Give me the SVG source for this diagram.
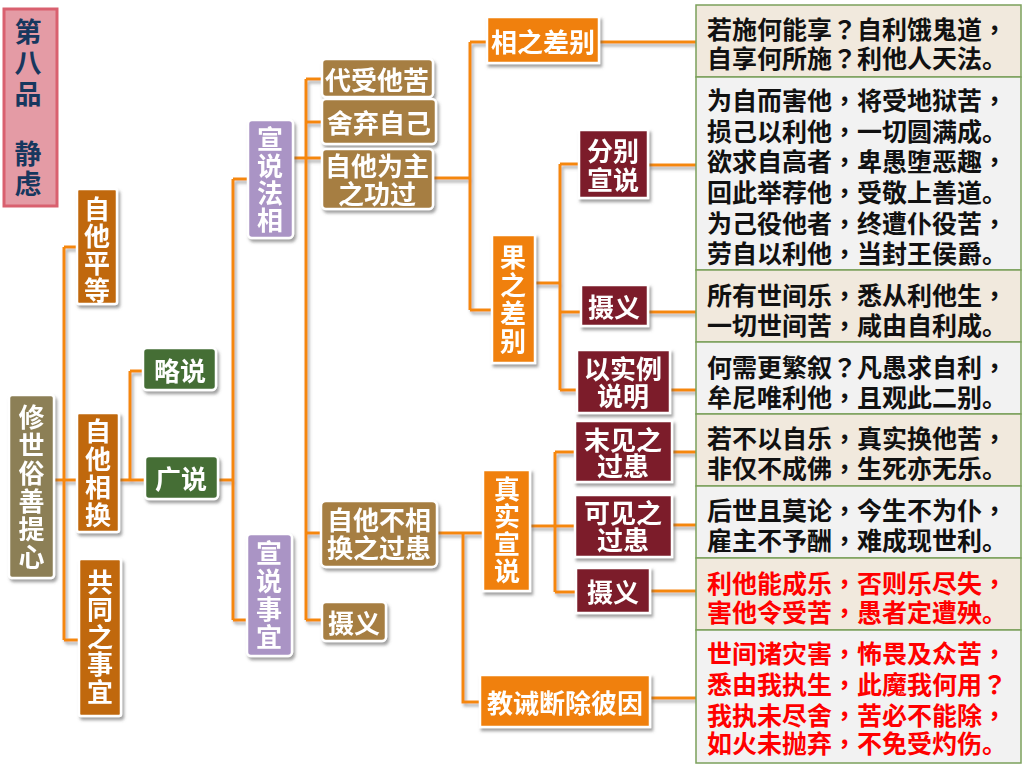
<svg xmlns="http://www.w3.org/2000/svg" width="1023" height="767" viewBox="0 0 1023 767">
<defs>
<filter id="sh" x="-20%" y="-20%" width="150%" height="150%">
<feDropShadow dx="2" dy="3" stdDeviation="1.8" flood-color="#555" flood-opacity="0.55"/>
</filter>
<filter id="lsh" x="-20%" y="-20%" width="150%" height="150%">
<feDropShadow dx="2" dy="3" stdDeviation="1.5" flood-color="#666" flood-opacity="0.5"/>
</filter>
</defs>
<style>
text{font-family:"Noto Sans CJK SC","Noto Sans CJK TC",sans-serif;font-weight:bold;}
.n text{fill:#fff;font-size:26px;text-anchor:middle;dominant-baseline:central;}
.n rect{stroke:#fff;stroke-width:2.5;}
.n{filter:url(#sh);}
.khaki{fill:#8C7F56;}
.ob{fill:#C0680E;}
.gr{fill:#446E36;}
.lav{fill:#AA94C5;}
.br{fill:#A67E42;}
.or{fill:#F0800A;}
.mr{fill:#7B1F2A;}
.conn path{fill:none;stroke:#F5870F;stroke-width:3;}
.tb text{font-size:25px;fill:#111;dominant-baseline:central;}
.tb text.red{fill:#FF0000;}
.tb .p{font-family:"Noto Sans CJK TC","Noto Sans CJK SC",sans-serif;}
.r1{fill:#F1E9DD;stroke:#7BA05B;stroke-width:1.5;}
.r2{fill:#F2F2F2;stroke:#7BA05B;stroke-width:1.5;}
</style>
<rect width="1023" height="767" fill="#fff"/>

<g id="connectors" class="conn" filter="url(#lsh)">
<path d="M54,480 H64 M64,247 V640 M64,247 H77 M64,480 H77 M64,640 H79"/>
<path d="M119,480 H130 M130,371 V480 M130,371 H143 M130,480 H145"/>
<path d="M218,480 H233 M233,179 V620 M233,179 H248 M233,620 H247"/>
<path d="M293,158 H306 M306,79 V620 M306,79 H322 M306,122 H322 M306,158 H322 M306,533 H321 M306,620 H322"/>
<path d="M433,178 H470 M470,42 V310 M470,42 H487 M470,310 H492"/>
<path d="M599,42 H696"/>
<path d="M535,283 H560 M560,164 V390 M560,164 H579 M560,312 H581 M560,390 H577"/>
<path d="M648,165 H696 M648,312 H696 M670,390 H696"/>
<path d="M437,533 H483 M463,533 V702 H480"/>
<path d="M530,526 H555 M555,452 V592 M555,452 H575 M555,526 H575 M555,592 H576"/>
<path d="M672,452 H696 M672,525 H696 M650,591 H696 M650,698 H696"/>
</g>

<g id="title">
<rect x="4" y="9" width="53" height="197" fill="#E49BA5" stroke="#D9606F" stroke-width="3"/>
<g font-size="27" fill="#17375E" text-anchor="middle" dominant-baseline="central">
<text x="28" y="30">第</text>
<text x="28" y="61">八</text>
<text x="28" y="92">品</text>
<text x="28" y="152">静</text>
<text x="28" y="182">虑</text>
</g>
</g>

<g id="root" class="n">
<rect class="khaki" x="9" y="395" width="45" height="183" rx="3"/>
<text x="31.5" y="415">修</text><text x="31.5" y="443">世</text><text x="31.5" y="471">俗</text><text x="31.5" y="499">善</text><text x="31.5" y="527">提</text><text x="31.5" y="555">心</text>
</g>

<g id="zitapingdeng" class="n">
<rect class="ob" x="77" y="189" width="40" height="115" rx="2"/>
<text x="97" y="207">自</text><text x="97" y="234">他</text><text x="97" y="261">平</text><text x="97" y="288">等</text>
</g>

<g id="zitaxianghuan" class="n">
<rect class="ob" x="77" y="413" width="42" height="119" rx="2"/>
<text x="98" y="429">自</text><text x="98" y="457">他</text><text x="98" y="485">相</text><text x="98" y="513">换</text>
</g>

<g id="gongtong" class="n">
<rect class="ob" x="79" y="559" width="42" height="157" rx="2"/>
<text x="100" y="580">共</text><text x="100" y="607.5">同</text><text x="100" y="635">之</text><text x="100" y="662.5">事</text><text x="100" y="690">宜</text>
</g>

<g id="lueshuo" class="n">
<rect class="gr" x="143" y="348" width="73" height="42" rx="4"/>
<text x="180" y="369">略说</text>
</g>

<g id="guangshuo" class="n">
<rect class="gr" x="145" y="456" width="73" height="43" rx="4"/>
<text x="181" y="477">广说</text>
</g>

<g id="xuanshuofaxiang" class="n">
<rect class="lav" x="248" y="120" width="45" height="118" rx="4"/>
<text x="270" y="137">宣</text><text x="270" y="164">说</text><text x="270" y="191">法</text><text x="270" y="218">相</text>
</g>

<g id="xuanshuoshiyi" class="n">
<rect class="lav" x="247" y="534" width="45" height="122" rx="4"/>
<text x="269" y="551">宣</text><text x="269" y="579">说</text><text x="269" y="607">事</text><text x="269" y="635">宜</text>
</g>

<g id="daishou" class="n">
<rect class="br" x="322" y="59" width="111" height="38" rx="4"/>
<text x="377" y="78">代受他苦</text>
</g>

<g id="shegi" class="n">
<rect class="br" x="322" y="99" width="114" height="45" rx="4"/>
<text x="379" y="121">舍弃自己</text>
</g>

<g id="zitaweizhu" class="n">
<rect class="br" x="322" y="149" width="111" height="60" rx="4"/>
<text x="377" y="164">自他为主</text>
<text x="377" y="192">之功过</text>
</g>

<g id="zitabuxianghuan" class="n">
<rect class="br" x="321" y="501" width="116" height="66" rx="5"/>
<text x="379" y="518">自他不相</text>
<text x="379" y="546">换之过患</text>
</g>

<g id="sheyi1" class="n">
<rect class="br" x="322" y="602" width="64" height="39" rx="4"/>
<text x="354" y="621">摄义</text>
</g>

<g id="xiangzhichabie" class="n">
<rect class="or" x="487" y="17" width="112" height="46"/>
<text x="543" y="40">相之差别</text>
</g>

<g id="guozhichabie" class="n">
<rect class="or" x="492" y="235" width="43" height="128"/>
<text x="513" y="255">果</text><text x="513" y="283">之</text><text x="513" y="311">差</text><text x="513" y="339">别</text>
</g>

<g id="fenbie" class="n">
<rect class="mr" x="579" y="130" width="69" height="68"/>
<text x="613" y="149">分别</text>
<text x="613" y="178">宣说</text>
</g>

<g id="sheyi2" class="n">
<rect class="mr" x="581" y="285" width="67" height="41"/>
<text x="614" y="305">摄义</text>
</g>

<g id="yishili" class="n">
<rect class="mr" x="577" y="350" width="93" height="63"/>
<text x="623" y="367">以实例</text>
<text x="623" y="394">说明</text>
</g>

<g id="zhenshi" class="n">
<rect class="or" x="483" y="470" width="47" height="121"/>
<text x="507" y="487">真</text><text x="507" y="514.5">实</text><text x="507" y="542">宣</text><text x="507" y="569.5">说</text>
</g>

<g id="weijian" class="n">
<rect class="mr" x="575" y="421" width="97" height="61"/>
<text x="623" y="438">末见之</text>
<text x="623" y="464">过患</text>
</g>

<g id="kejian" class="n">
<rect class="mr" x="575" y="495" width="97" height="62"/>
<text x="623" y="511">可见之</text>
<text x="623" y="538">过患</text>
</g>

<g id="sheyi3" class="n">
<rect class="mr" x="576" y="568" width="74" height="45"/>
<text x="613" y="590">摄义</text>
</g>

<g id="jiaojie" class="n">
<rect class="or" x="480" y="675" width="170" height="52"/>
<text x="565" y="701">教诫断除彼因</text>
</g>

<g id="table" class="tb">
<rect class="r1" x="696" y="5" width="325" height="72"/>
<rect class="r2" x="696" y="77" width="325" height="193"/>
<rect class="r1" x="696" y="270" width="325" height="72"/>
<rect class="r2" x="696" y="342" width="325" height="72"/>
<rect class="r1" x="696" y="414" width="325" height="72"/>
<rect class="r2" x="696" y="486" width="325" height="72"/>
<rect class="r1" x="696" y="558" width="325" height="72"/>
<rect class="r2" x="696" y="630" width="325" height="133"/>
<text x="707" y="28">若施何能享<tspan class="p">？</tspan>自利饿鬼道<tspan class="p">，</tspan></text>
<text x="707" y="57">自享何所施<tspan class="p">？</tspan>利他人天法。</text>
<text x="707" y="99">为自而害他<tspan class="p">，</tspan>将受地狱苦<tspan class="p">，</tspan></text>
<text x="707" y="130">损己以利他<tspan class="p">，</tspan>一切圆满成。</text>
<text x="707" y="160">欲求自高者<tspan class="p">，</tspan>卑愚堕恶趣<tspan class="p">，</tspan></text>
<text x="707" y="191">回此举荐他<tspan class="p">，</tspan>受敬上善道。</text>
<text x="707" y="222">为己役他者<tspan class="p">，</tspan>终遭仆役苦<tspan class="p">，</tspan></text>
<text x="707" y="252">劳自以利他<tspan class="p">，</tspan>当封王侯爵。</text>
<text x="707" y="294">所有世间乐<tspan class="p">，</tspan>悉从利他生<tspan class="p">，</tspan></text>
<text x="707" y="324">一切世间苦<tspan class="p">，</tspan>咸由自利成。</text>
<text x="707" y="366">何需更繁叙<tspan class="p">？</tspan>凡愚求自利<tspan class="p">，</tspan></text>
<text x="707" y="396">牟尼唯利他<tspan class="p">，</tspan>且观此二别。</text>
<text x="707" y="437">若不以自乐<tspan class="p">，</tspan>真实换他苦<tspan class="p">，</tspan></text>
<text x="707" y="467">非仅不成佛<tspan class="p">，</tspan>生死亦无乐。</text>
<text x="707" y="509">后世且莫论<tspan class="p">，</tspan>今生不为仆<tspan class="p">，</tspan></text>
<text x="707" y="539">雇主不予酬<tspan class="p">，</tspan>难成现世利。</text>
<text class="red" x="707" y="582">利他能成乐<tspan class="p">，</tspan>否则乐尽失<tspan class="p">，</tspan></text>
<text class="red" x="707" y="611">害他令受苦<tspan class="p">，</tspan>愚者定遭殃。</text>
<text class="red" x="707" y="652">世间诸灾害<tspan class="p">，</tspan>怖畏及众苦<tspan class="p">，</tspan></text>
<text class="red" x="707" y="683">悉由我执生<tspan class="p">，</tspan>此魔我何用<tspan class="p">？</tspan></text>
<text class="red" x="707" y="714">我执未尽舍<tspan class="p">，</tspan>苦必不能除<tspan class="p">，</tspan></text>
<text class="red" x="707" y="742">如火未抛弃<tspan class="p">，</tspan>不免受灼伤。</text>
</g>
</svg>
